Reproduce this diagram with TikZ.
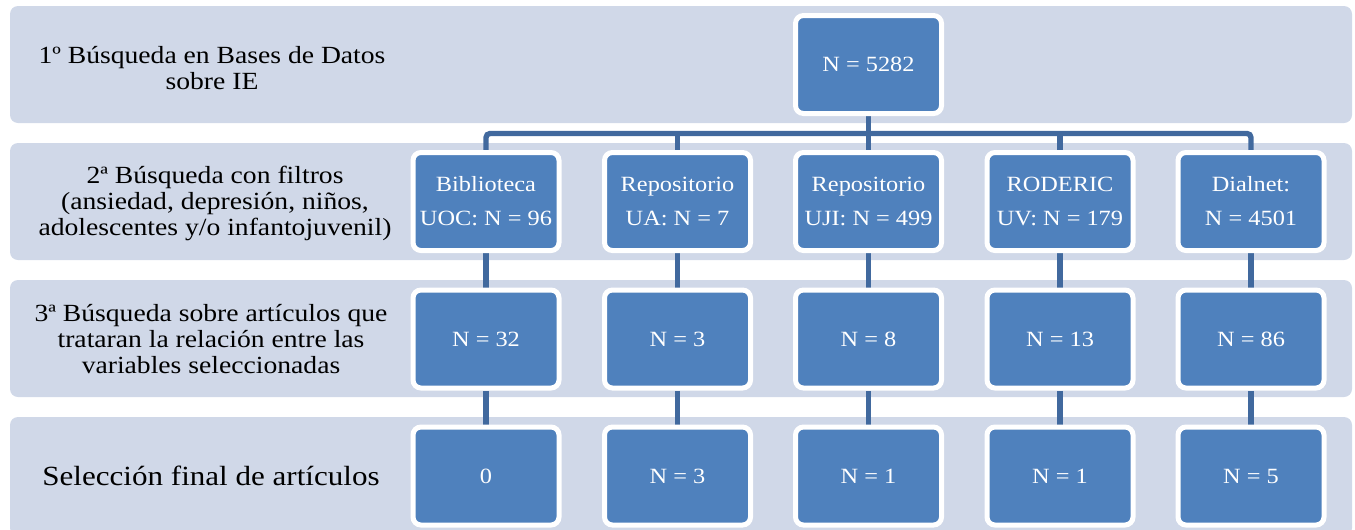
\documentclass[tikz,border=0pt]{standalone}
\usepackage{fontspec}
\setmainfont{Liberation Serif}[FakeStretch=1.12]
\usetikzlibrary{backgrounds}
\definecolor{bandfill}{HTML}{D0D8E8}
\definecolor{boxfill}{HTML}{4F81BD}
\definecolor{linkcol}{HTML}{41699E}

\begin{document}
\begin{tikzpicture}[x=0.75pt,y=0.75pt,yscale=-1,
  band/.style={fill=bandfill, rounded corners=6pt},
  rowtext/.style={align=center, font=\fontsize{18.5}{19.5}\selectfont},
  box/.style={rectangle, rounded corners=6pt, fill=boxfill, draw=white, line width=3.75pt,
    minimum width=109.5pt, minimum height=73.5pt, text=white, align=center,
    font=\fontsize{16.3}{25.5}\selectfont},
  link/.style={draw=linkcol, line width=4pt}]

\useasboundingbox (0,0) rectangle (1355,529);

% row texts
\node[rowtext] (lab1) at (212,68) {1º Búsqueda en Bases de Datos\\sobre IE};
\node[rowtext] (lab2) at (215,203) {2ª Búsqueda con filtros\\(ansiedad, depresión, niños,\\adolescentes y/o infantojuvenil)};
\node[rowtext] (lab3) at (211,339) {3ª Búsqueda sobre artículos que\\trataran la relación entre las\\variables seleccionadas};
\node[rowtext, font=\fontsize{20.8}{24}\selectfont] (lab4) at (211,476) {Selección final de artículos};

% first search
\node[box] (top) at (868.5,64.5) {N = 5282};

% second search
\node[box] (uoc2) at (486,201.5) {Biblioteca\\UOC: N = 96};
\node[box] (ua2) at (677.5,201.5) {Repositorio\\UA: N = 7};
\node[box] (uji2) at (868.5,201.5) {Repositorio\\UJI: N = 499};
\node[box] (uv2) at (1060,201.5) {RODERIC\\UV: N = 179};
\node[box] (dial2) at (1251,201.5) {Dialnet:\\N = 4501};

% third search
\node[box] (uoc3) at (486,339) {N = 32};
\node[box] (ua3) at (677.5,339) {N = 3};
\node[box] (uji3) at (868.5,339) {N = 8};
\node[box] (uv3) at (1060,339) {N = 13};
\node[box] (dial3) at (1251,339) {N = 86};

% final selection
\node[box] (uoc4) at (486,476) {0};
\node[box] (ua4) at (677.5,476) {N = 3};
\node[box] (uji4) at (868.5,476) {N = 1};
\node[box] (uv4) at (1060,476) {N = 1};
\node[box] (dial4) at (1251,476) {N = 5};

\begin{pgfonlayer}{background}
% bands
\fill[band] (10,6) rectangle (1352,123);
\fill[band] (10,143) rectangle (1352,260);
\fill[band] (10,280) rectangle (1352,397);
\fill[band] (10,417) rectangle (1352,536);

% links
\coordinate (bus) at (868.5,133.5);
\draw[link, rounded corners=3pt] (uoc2.north) -- (uoc2.north |- bus) -- (dial2.north |- bus) -- (dial2.north);
\draw[link] (top) -- (uji2);
\draw[link] (ua2.north) -- (ua2.north |- bus);
\draw[link] (uv2.north) -- (uv2.north |- bus);

\draw[link] (uoc2) -- (uoc3) (uoc3) -- (uoc4);
\draw[link] (ua2) -- (ua3) (ua3) -- (ua4);
\draw[link] (uji2) -- (uji3) (uji3) -- (uji4);
\draw[link] (uv2) -- (uv3) (uv3) -- (uv4);
\draw[link] (dial2) -- (dial3) (dial3) -- (dial4);
\end{pgfonlayer}

\end{tikzpicture}
\end{document}
